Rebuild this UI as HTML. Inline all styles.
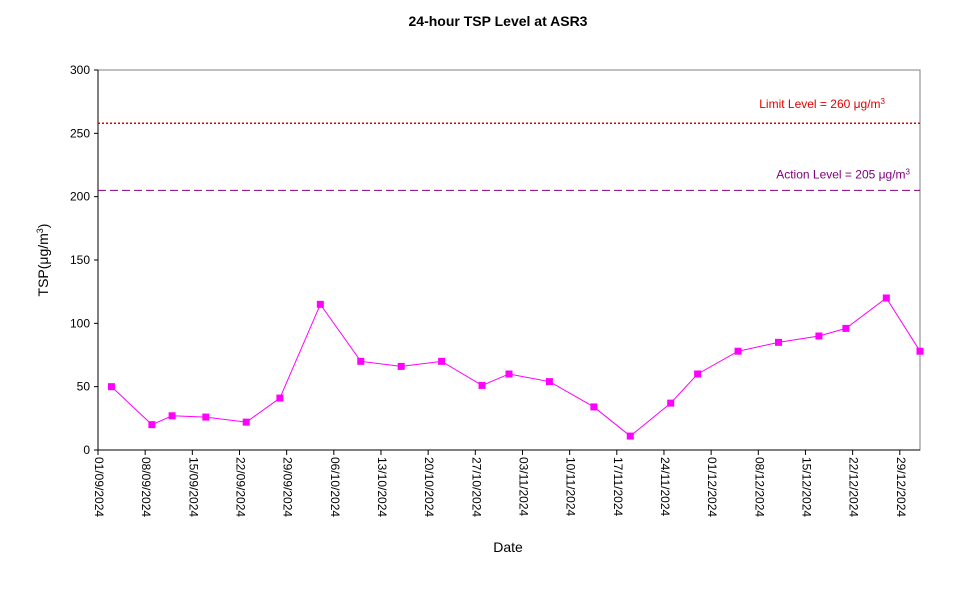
<!DOCTYPE html>
<html><head><meta charset="utf-8"><style>
body{margin:0;background:#fff;}
svg{display:block;font-family:"Liberation Sans",Arial,sans-serif;}
</style></head><body>
<svg id="chart" width="967" height="590">
<text x="498" y="26" text-anchor="middle" font-size="14" font-weight="bold">24-hour TSP Level at ASR3</text>
<rect x="98" y="70" width="822" height="380" fill="none" stroke="#808080" stroke-width="1"/>
<g id="yaxis"></g>
<g id="xaxis"></g>
<g id="refs"></g>
<g id="series"></g>
<text transform="translate(48,260) rotate(-90)" text-anchor="middle" font-size="14">TSP(μg/m<tspan baseline-shift="super" font-size="9">3</tspan>)</text>
<text x="508" y="552" text-anchor="middle" font-size="14">Date</text>
</svg>
<script>
const yTicks=[0,50,100,150,200,250,300];
const xTickLabels=["01/09/2024","08/09/2024","15/09/2024","22/09/2024","29/09/2024","06/10/2024","13/10/2024","20/10/2024","27/10/2024","03/11/2024","10/11/2024","17/11/2024","24/11/2024","01/12/2024","08/12/2024","15/12/2024","22/12/2024","29/12/2024"];
const sampleDays=[2,8,11,16,22,27,33,39,45,51,57,61,67,73.6,79,85,89,95,101,107,111,117,122];
const tspValues=[50,20,27,26,22,41,115,70,66,70,51,60,54,34,11,37,60,78,85,90,96,120,78];
const limitLevel=[258];
const actionLevel=[205];
const NS="http://www.w3.org/2000/svg";
const X0=98,X1=920,Y0=450,Y1=70,DAYS=122,YMAX=300;
function xs(d){return X0+(X1-X0)*d/DAYS;}
function ys(v){return Y0-(Y0-Y1)*v/YMAX;}
function mk(tag,attrs,parent){const e=document.createElementNS(NS,tag);for(const k in attrs)e.setAttribute(k,attrs[k]);parent.appendChild(e);return e;}
const ya=document.getElementById('yaxis');
yTicks.forEach(v=>{
 const t=mk('line',{x1:X0-4,x2:X0,y1:ys(v),y2:ys(v),stroke:'#000'},ya);
 
 
 const l=mk('text',{x:X0-8,y:ys(v)+4,'text-anchor':'end','font-size':12},ya);
 
 
 l.textContent=v;
});
mk('line',{x1:X0,x2:X0,y1:Y0,y2:Y1,stroke:'#000'},ya);
const xa=document.getElementById('xaxis');
mk('line',{x1:X0,x2:X1,y1:Y0,y2:Y0,stroke:'#000'},xa);
xTickLabels.forEach((s,i)=>{
 const x=xs(i*7);
 const t=mk('line',{x1:x,x2:x,y1:Y0,y2:Y0+5,stroke:'#000'},xa);
 
 
 const l=mk('text',{transform:`translate(${x-3},${Y0+7}) rotate(90)`,'font-size':12},xa);
 
 
 l.textContent=s;
});
const rf=document.getElementById('refs');
const ll=mk('line',{x1:X0,x2:X1,y1:ys(limitLevel[0]),y2:ys(limitLevel[0]),stroke:'#e00000','stroke-width':1.5,'stroke-dasharray':'2,2'},rf);


const lt=mk('text',{x:885,y:ys(limitLevel[0])-15,'text-anchor':'end','font-size':12,fill:'#e00000'},rf);


lt.innerHTML='Limit Level  = 260 μg/m<tspan baseline-shift="super" font-size="8">3</tspan>';
const al=mk('line',{x1:X0,x2:X1,y1:ys(actionLevel[0]),y2:ys(actionLevel[0]),stroke:'#800080','stroke-width':1,'stroke-dasharray':'8,4'},rf);


const at=mk('text',{x:910,y:ys(actionLevel[0])-12,'text-anchor':'end','font-size':12,fill:'#800080'},rf);


at.innerHTML='Action Level  = 205 μg/m<tspan baseline-shift="super" font-size="8">3</tspan>';
const sr=document.getElementById('series');
const pts=sampleDays.map((d,i)=>xs(d)+','+ys(tspValues[i])).join(' ');
const pl=mk('polyline',{points:pts,fill:'none',stroke:'#ff00ff','stroke-width':1},sr);


sampleDays.forEach((d,i)=>{
 const r=mk('rect',{x:xs(d)-3.5,y:ys(tspValues[i])-3.5,width:7,height:7,fill:'#ff00ff'},sr);
 
 
});
</script>
</body></html>
